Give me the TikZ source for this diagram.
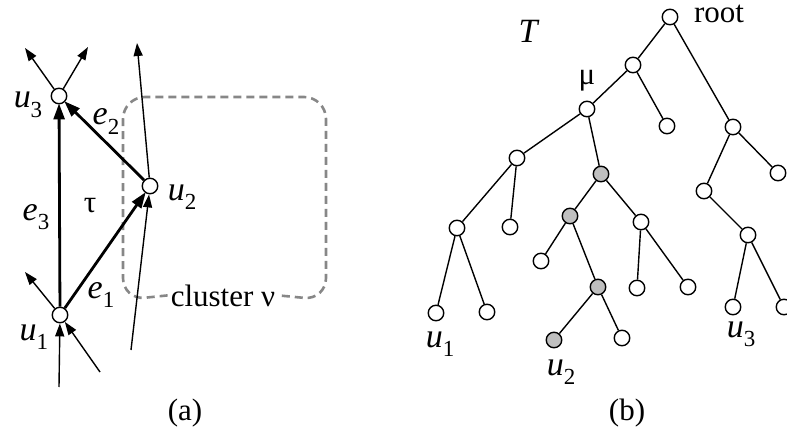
\documentclass[tikz,border=0pt]{standalone}
\usepackage{fontspec}
\setmainfont{Liberation Serif}
\usetikzlibrary{arrows.meta}
\newcommand\sublab[2]{{\fontsize{34}{38}\selectfont\itshape #1}\raisebox{-0.3em}{\fontsize{23}{23}\selectfont #2}}
\begin{document}
\begin{tikzpicture}[x=1pt,y=-1pt,
  vtx/.style={circle,draw,line width=1.4pt,fill=white,minimum size=15.5pt,inner sep=0pt},
  gvtx/.style={vtx,fill=black!25},
  txt/.style={inner sep=0pt,font=\fontsize{31}{35}\selectfont},
  thickedge/.style={line width=2.8pt,-{Triangle[length=16pt,width=11pt]},shorten >=-1pt},
  thinarrow/.style={line width=1.4pt,-{Triangle[length=13pt,width=9pt]}},
  treeedge/.style={line width=1.4pt},
  clusterline/.style={draw=black!47,line width=2.6pt,dash pattern=on 8pt off 5pt,rounded corners=22pt}
]
\useasboundingbox (0,0) rectangle (787,433);
% ---------- (a) ----------
\node[vtx] (u3) at (59,96) {};
\node[vtx] (u2) at (150,186) {};
\node[vtx] (u1) at (60,315) {};
\coordinate (t1) at (25,48);
\coordinate (t2) at (88,47);
\coordinate (t3) at (137,43);
\coordinate (b2) at (131,350);
\coordinate (t4) at (25,272);
\coordinate (b1a) at (59,387);
\coordinate (b1b) at (100,372);
% cluster box
\node[txt,anchor=base,inner xsep=3pt] (cl) at (223,306) {cluster ν};
\draw[clusterline] (cl.west) -- (123,300) -- (123,97) -- (326,97) -- (326,300) -- (cl.east);
% thin arrows
\draw[thinarrow] (u3) -- (t1);
\draw[thinarrow] (u3) -- (t2);
\draw[thinarrow] (u2) -- (t3);
\draw[thinarrow] (b2) -- (u2);
\draw[thinarrow] (u1) -- (t4);
\draw[thinarrow] (b1a) -- (u1);
\draw[thinarrow] (b1b) -- (u1);
% thick edges
\draw[thickedge] (u1) -- (u3);
\draw[thickedge] (u2) -- (u3);
\draw[thickedge] (u1) -- (u2);
% labels
\node[txt,anchor=base] (lu3) at (28,108) {\sublab{u}{3}};
\node[txt,anchor=base] (lu2) at (182,200) {\sublab{u}{2}};
\node[txt,anchor=base] (lu1) at (34,340) {\sublab{u}{1}};
\node[txt,anchor=base] (le3) at (36,220) {\sublab{e}{3}};
\node[txt,anchor=base] (le2) at (106,125) {\sublab{e}{2}};
\node[txt,anchor=base] (le1) at (101,298) {\sublab{e}{1}};
\node[txt,anchor=base] (ltau) at (90,212) {τ};
\node[txt] (la) at (185,413) {(a)};
% ---------- (b) ----------
\node[vtx] (root) at (670,17) {};
\node[vtx] (n1) at (633,65) {};
\node[vtx] (mu) at (587,109) {};
\node[vtx] (l1) at (667,126) {};
\node[vtx] (R) at (733,127) {};
\node[vtx] (A) at (517,158) {};
\node[gvtx] (G1) at (601,174) {};
\node[vtx] (AL) at (457,228) {};
\node[vtx] (AR) at (510,227) {};
\node[vtx] (U1) at (436,313) {};
\node[vtx] (ALR) at (487,312) {};
\node[gvtx] (G2) at (570,216) {};
\node[vtx] (C) at (641,222) {};
\node[vtx] (G2L) at (541,261) {};
\node[gvtx] (G3) at (598,287) {};
\node[gvtx] (U2) at (554,340) {};
\node[vtx] (G3R) at (622,338) {};
\node[vtx] (CL) at (637,288) {};
\node[vtx] (CR) at (688,287) {};
\node[vtx] (RR) at (778,173) {};
\node[vtx] (RL) at (704,191) {};
\node[vtx] (RLR) at (748,235) {};
\node[vtx] (U3) at (733,307) {};
\node[vtx] (RLRR) at (784,307) {};
\draw[treeedge] (root) -- (n1);
\draw[treeedge] (root) -- (R);
\draw[treeedge] (n1) -- (mu);
\draw[treeedge] (n1) -- (l1);
\draw[treeedge] (mu) -- (A);
\draw[treeedge] (mu) -- (G1);
\draw[treeedge] (A) -- (AL);
\draw[treeedge] (A) -- (AR);
\draw[treeedge] (AL) -- (U1);
\draw[treeedge] (AL) -- (ALR);
\draw[treeedge] (G1) -- (G2);
\draw[treeedge] (G1) -- (C);
\draw[treeedge] (G2) -- (G2L);
\draw[treeedge] (G2) -- (G3);
\draw[treeedge] (G3) -- (U2);
\draw[treeedge] (G3) -- (G3R);
\draw[treeedge] (C) -- (CL);
\draw[treeedge] (C) -- (CR);
\draw[treeedge] (R) -- (RR);
\draw[treeedge] (R) -- (RL);
\draw[treeedge] (RL) -- (RLR);
\draw[treeedge] (RLR) -- (U3);
\draw[treeedge] (RLR) -- (RLRR);
\node[txt,anchor=base] (lT) at (528,43) {\fontsize{34}{38}\selectfont\itshape T};
\node[txt,anchor=base] (lmu) at (587,85) {μ};
\node[txt,anchor=base] (lroot) at (719,23) {root};
\node[txt,anchor=base] (lU1) at (440,347) {\sublab{u}{1}};
\node[txt,anchor=base] (lU2) at (561,375) {\sublab{u}{2}};
\node[txt,anchor=base] (lU3) at (741,337) {\sublab{u}{3}};
\node[txt] (lb) at (627,413) {(b)};
\end{tikzpicture}
\end{document}
